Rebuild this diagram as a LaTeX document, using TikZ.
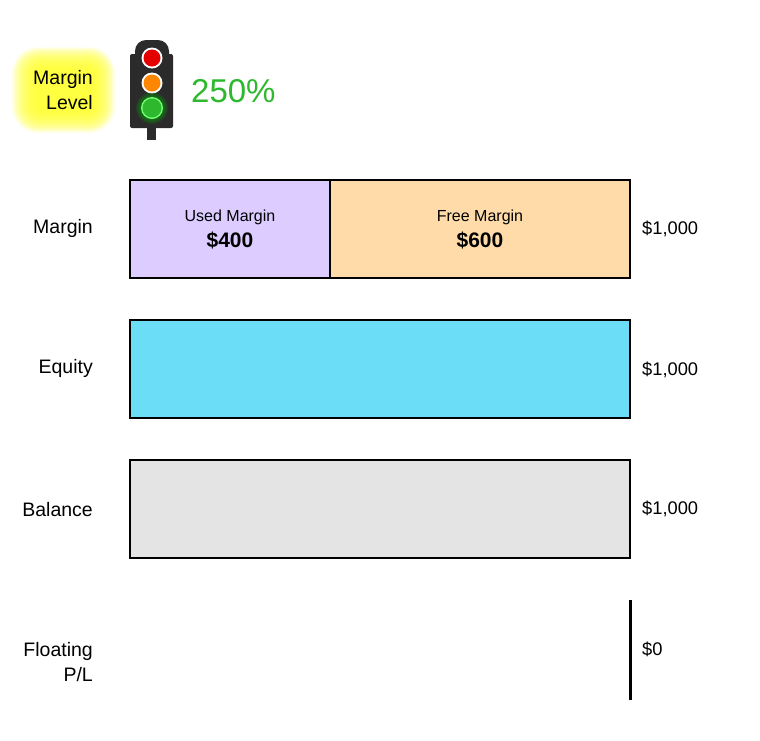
\documentclass[tikz,border=0pt]{standalone}
\usepackage{fontspec}
\setmainfont{Liberation Sans}
\definecolor{usedc}{HTML}{DCCCFF}
\definecolor{freec}{HTML}{FFDBAA}
\definecolor{equityc}{HTML}{6CDDF7}
\definecolor{balc}{HTML}{E4E4E4}
\definecolor{lightbody}{HTML}{2B2B2B}
\definecolor{pctgreen}{HTML}{2DB82D}
\definecolor{glowy}{HTML}{FFFF30}
\tikzset{
  bar/.style={draw=black, line width=1.5pt},
  rowlabel/.style={font=\fontsize{19.5}{24.5}\selectfont, anchor=east, align=right, inner sep=0pt},
  vallabel/.style={font=\fontsize{18.3}{20}\selectfont, anchor=west, inner sep=0pt},
  smalltxt/.style={font=\fontsize{16}{18}\selectfont, inner sep=0pt},
  bigtxt/.style={font=\bfseries\fontsize{21}{24}\selectfont, inner sep=0pt},
}
\begin{document}
\begin{tikzpicture}[x=1pt,y=-1pt]
\useasboundingbox (0,0) rectangle (760,740);
\fill[white] (0,0) rectangle (760,740);
% yellow glow
\foreach \i in {0,...,27}{
  \fill[glowy, opacity=0.075, rounded corners={(26-0.7*\i)*1pt}]
    ({12+0.9*\i},{47+0.8*\i}) rectangle ({115-0.8*\i},{133-0.8*\i});
}
\node[rowlabel] (ml) at (93,90) {Margin\\Level};
% traffic light
\fill[lightbody] (147,124) rectangle (156,140);
\fill[lightbody, rounded corners=11pt] (135,40) rectangle (169,70);
\fill[lightbody, rounded corners=2pt] (130,54) rectangle (173,128);
\fill[white] (152,58) circle (10.5);
\fill[red!90!black] (152,58) circle (8.5);
\fill[white] (152,83) circle (10.5);
\fill[orange!95!yellow] (152,83) circle (8.5);
\foreach \i in {0,...,6}{
  \fill[green!70!black, opacity=0.12] (152,108) circle ({16-\i});
}
\fill[green!55!white] (152,108) circle (11);
\fill[pctgreen] (152,108) circle (9.5);
\node[font=\fontsize{33}{36}\selectfont, text=pctgreen, anchor=west, inner sep=0pt] (pct) at (191,91) {250\%};
% margin row
\node[rowlabel] (lm) at (93,228) {Margin};
\filldraw[bar, fill=usedc] (130,180) rectangle (330,278);
\filldraw[bar, fill=freec] (330,180) rectangle (630,278);
\node[smalltxt] (um) at (230,217) {Used Margin};
\node[bigtxt] (uv) at (230,240) {\$400};
\node[smalltxt] (fm) at (480,217) {Free Margin};
\node[bigtxt] (fv) at (480,240) {\$600};
\node[vallabel] (v1) at (642,229) {\$1,000};
% equity
\node[rowlabel] (le) at (93,368) {Equity};
\filldraw[bar, fill=equityc] (130,320) rectangle (630,418);
\node[vallabel] (v2) at (642,370) {\$1,000};
% balance
\node[rowlabel] (lb) at (93,510) {Balance};
\filldraw[bar, fill=balc] (130,460) rectangle (630,558);
\node[vallabel] (v3) at (642,509) {\$1,000};
% floating
\node[rowlabel] (lf) at (93,662) {Floating\\P/L};
\coordinate (ft) at (630,600);
\coordinate (fb) at (630,700);
\draw[line width=3pt] (ft) -- (fb);
\node[vallabel] (v4) at (642,649) {\$0};
\end{tikzpicture}
\end{document}
